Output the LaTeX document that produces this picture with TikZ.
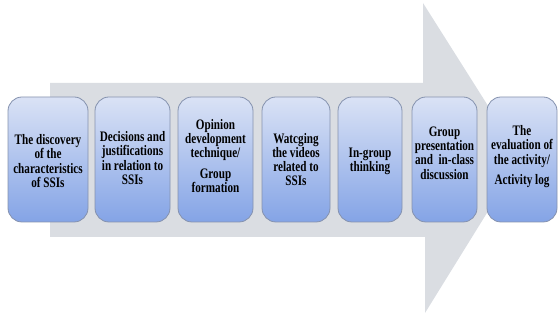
\documentclass[tikz,border=0pt]{standalone}
\usepackage{fontspec}
\setmainfont{Liberation Serif}[FakeStretch=0.77]
\begin{document}
\begin{tikzpicture}[x=1pt,y=-1pt,
  stepbox/.style={rectangle, rounded corners=14pt, draw=boxedge, line width=0.8pt,
    top color=boxtop, bottom color=boxbot, minimum height=125pt, inner sep=0pt},
  steptext/.style={align=center, font=\bfseries\fontsize{14.5}{14.2}\selectfont, text=black, inner sep=0pt}]
\definecolor{boxtop}{HTML}{DAE2F5}
\definecolor{boxbot}{HTML}{84A4E6}
\definecolor{boxedge}{HTML}{8592AE}
\definecolor{arrowfill}{HTML}{DADDE2}
\useasboundingbox (0,0) rectangle (558,320);
% big background arrow
\fill[arrowfill] (50,83) -- (423,83) -- (423,3) -- (521,158) -- (425,313) -- (425,237) -- (50,237) -- cycle;
% process steps
\node[stepbox, minimum width=80pt] (s1) at (48,159.5) {};
\node[stepbox, minimum width=75pt] (s2) at (132.5,159.5) {};
\node[stepbox, minimum width=75pt] (s3) at (215.5,159.5) {};
\node[stepbox, minimum width=68pt] (s4) at (296,159.5) {};
\node[stepbox, minimum width=64pt] (s5) at (370,159.5) {};
\node[stepbox, minimum width=65pt] (s6) at (444.5,159.5) {};
\node[stepbox, minimum width=70pt] (s7) at (522,159.5) {};
% labels
\node[steptext] (t1) at ([yshift=-1.5pt]s1.center) {The discovery\\of the\\characteristics\\of SSIs};
\node[steptext] (t2) at ([yshift=1.5pt]s2.center) {Decisions and\\justifications\\in relation to\\SSIs};
\node[steptext] (t3) at ([yshift=3.5pt]s3.center) {Opinion\\development\\technique/\\[6pt]Group\\formation};
\node[steptext] (t4) at ([yshift=0pt]s4.center) {Watcging\\the videos\\related to\\SSIs};
\node[steptext] (t5) at ([yshift=-1.5pt]s5.center) {In-group\\thinking};
\node[steptext] (t6) at ([yshift=6.5pt]s6.center) {Group\\presentation\\and~ in-class\\discussion};
\node[steptext] (t7) at ([yshift=3pt]s7.center) {The\\evaluation of\\the activity/\\[6pt]Activity log};
\end{tikzpicture}
\end{document}
